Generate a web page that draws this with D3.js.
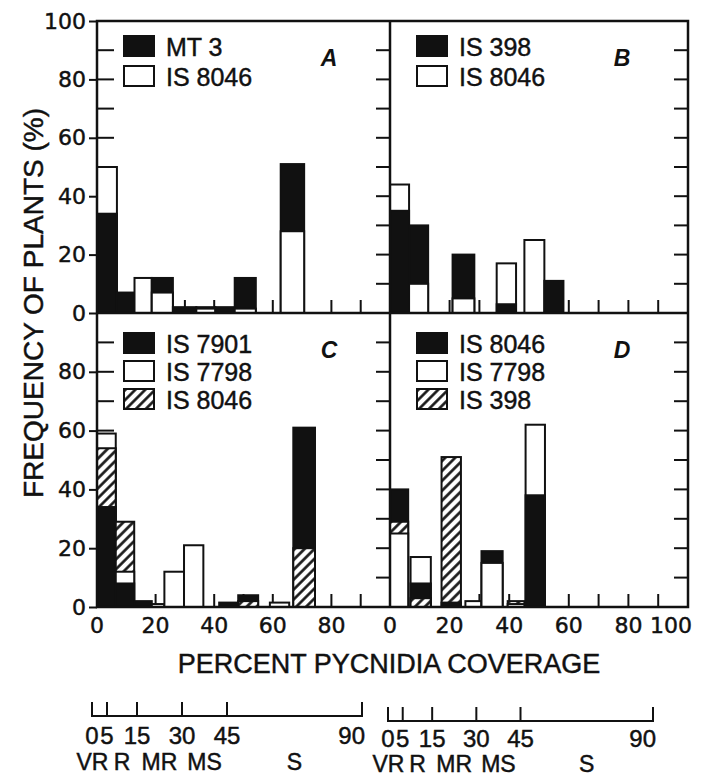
<!DOCTYPE html>
<html>
<head>
<meta charset="utf-8">
<script src="https://cdn.jsdelivr.net/npm/d3@7"></script>
<style>
body { margin: 0; background: #fff; }
svg { display: block; }
svg text { stroke: #111; stroke-width: 0.45px; }
</style>
</head>
<body>
<div id="chart-area"></div>
<script>
// tick values
var yTicksTop = [0, 20, 40, 60, 80, 100];
var yTicksBottom = [0, 20, 40, 60, 80];
var xTicksLeft = [0, 20, 40, 60, 80];
var xTicksRight = [0, 20, 40, 60, 80, 100];
var minorTicks = [10, 20, 30, 40, 50, 60, 70, 80, 90];

// panel A  (bins are [from, to] percent pycnidia coverage)
var binsA = [[0, 6.8], [6.8, 12.8], [12.8, 18.7], [18.7, 25.9], [25.9, 33.9], [33.9, 40.4], [40.4, 47], [47, 54.2], [62.7, 70.7]];
var mt3A = [34, 7, 0, 12, 2, 2, 2, 12, 51];
var is8046A = [50, 0, 12, 7, 0, 1.5, 0, 1.5, 28];

// panel B
var binsB = [[0, 6.4], [6.4, 12.8], [21, 28.3], [35.8, 42.3], [45.1, 51.8], [51.8, 58.2]];
var is398B = [35, 30, 20, 3, 0, 11];
var is8046B = [44, 10, 5, 17, 25, 0];

// panel C
var binsC = [[0, 6.4], [6.4, 12.7], [12.7, 18.7], [18.7, 23], [23, 29.7], [29.7, 36.3], [41.7, 48.2], [48.2, 55], [59, 65.6], [67, 74.4]];
var is7901C = [34, 8, 2, 0, 0, 0, 1.5, 4, 0, 61];
var is7798C = [59, 12, 0, 1, 12, 21, 0, 0, 1.5, 0];
var is8046C = [54, 29, 0, 0, 0, 0, 0, 2, 0, 20];

// panel D
var binsD = [[0, 6.1], [6.9, 13.7], [17.3, 23.8], [25.3, 30.7], [30.7, 37.8], [39.5, 45.1], [45.5, 52]];
var is8046D = [40, 8, 1.5, 0, 19, 0, 38];
var is7798D = [25, 17, 0, 2, 15, 1, 62];
var is398D = [29, 3, 51, 0, 0, 2, 0];

// severity classes
var classEdges = [0, 5, 15, 30, 45, 90];
var classNames = ["VR", "R", "MR", "MS", "S"];

var INK = "#111";
var BLACK = "#111", WHITE = "#fff", HATCH = "url(#hatch)";

var width = 702, height = 778;
var colX = [[97, 390], [390, 688]];
var rowY = [[21, 313], [313, 607]];

var svg = d3.select("#chart-area").append("svg")
  .attr("width", width)
  .attr("height", height);

var pat = svg.append("defs").append("pattern")
  .attr("id", "hatch")
  .attr("patternUnits", "userSpaceOnUse")
  .attr("width", 7).attr("height", 7)
  .attr("patternTransform", "rotate(45)");
pat.append("rect").attr("width", 7).attr("height", 7).attr("fill", "#fff");
pat.append("line")
  .attr("x1", 1.5).attr("x2", 1.5).attr("y1", 0).attr("y2", 7)
  .attr("stroke", INK).attr("stroke-width", 2.6);

var panels = [
  {letter: "A", col: 0, row: 0, bins: binsA, series: [
    {name: "MT 3", fill: BLACK, values: mt3A},
    {name: "IS 8046", fill: WHITE, values: is8046A}]},
  {letter: "B", col: 1, row: 0, bins: binsB, series: [
    {name: "IS 398", fill: BLACK, values: is398B},
    {name: "IS 8046", fill: WHITE, values: is8046B}]},
  {letter: "C", col: 0, row: 1, bins: binsC, series: [
    {name: "IS 7901", fill: BLACK, values: is7901C},
    {name: "IS 7798", fill: WHITE, values: is7798C},
    {name: "IS 8046", fill: HATCH, values: is8046C}]},
  {letter: "D", col: 1, row: 1, bins: binsD, series: [
    {name: "IS 8046", fill: BLACK, values: is8046D},
    {name: "IS 7798", fill: WHITE, values: is7798D},
    {name: "IS 398", fill: HATCH, values: is398D}]}
];

panels.forEach(function(p) {
  var x = d3.scaleLinear().domain([0, 100]).range(colX[p.col]);
  var y = d3.scaleLinear().domain([0, 100]).range([rowY[p.row][1], rowY[p.row][0]]);
  var g = svg.append("g");

  // right edge ticks (inward)
  g.selectAll(".rt").data(minorTicks).enter().append("line")
    .attr("x1", x(100)).attr("x2", x(100) - 14)
    .attr("y1", function(d) { return y(d); })
    .attr("y2", function(d) { return y(d); })
    .attr("stroke", INK).attr("stroke-width", 2);

  // bottom ticks (upward)
  g.selectAll(".bt").data(minorTicks).enter().append("line")
    .attr("x1", function(d) { return x(d); })
    .attr("x2", function(d) { return x(d); })
    .attr("y1", y(0)).attr("y2", y(0) - 13)
    .attr("stroke", INK).attr("stroke-width", 2);

  if (p.col == 0) {
    g.selectAll(".lt").data(minorTicks).enter().append("line")
      .attr("x1", x(0)).attr("x2", x(0) + 17)
      .attr("y1", function(d) { return y(d); })
      .attr("y2", function(d) { return y(d); })
      .attr("stroke", INK).attr("stroke-width", 2);

    var yAxis = d3.axisLeft(y)
      .tickValues(p.row == 0 ? yTicksTop : yTicksBottom)
      .tickSize(8).tickPadding(3)
      .tickFormat(d3.format("d"));
    var ya = g.append("g").attr("transform", "translate(" + x(0) + ",0)").call(yAxis);
    ya.select(".domain").remove();
    ya.selectAll("line").attr("stroke", INK).attr("stroke-width", 2);
    ya.selectAll("text")
      .attr("font-family", "DejaVu Sans").attr("font-size", "22px").attr("fill", INK);
  }

  if (p.row == 1) {
    var ticks = p.col == 0 ? xTicksLeft : xTicksRight;
    g.selectAll(".xl").data(ticks).enter().append("text")
      .attr("x", function(d) { return d == 100 ? x(d) + 4 : x(d); })
      .attr("y", y(0) + 26)
      .attr("text-anchor", function(d) { return d == 100 ? "end" : "middle"; })
      .attr("font-family", "DejaVu Sans").attr("font-size", "22px").attr("fill", INK)
      .text(function(d) { return d; });
  }

  // bars: within each bin the taller series sits behind the shorter ones
  p.bins.forEach(function(b, i) {
    var items = p.series.map(function(s) { return {fill: s.fill, v: s.values[i]}; })
      .filter(function(d) { return d.v > 0; })
      .sort(function(a, c) { return c.v - a.v; });
    g.selectAll(null).data(items).enter().append("rect")
      .attr("x", x(b[0]))
      .attr("width", x(b[1]) - x(b[0]))
      .attr("y", function(d) { return y(d.v); })
      .attr("height", function(d) { return y(0) - y(d.v); })
      .attr("fill", function(d) { return d.fill; })
      .attr("stroke", INK).attr("stroke-width", 2);
  });

  // legend
  var ly = rowY[p.row][0] + (p.row == 0 ? 15 : 20);
  var step = p.row == 0 ? 30 : 28;
  var lg = g.selectAll(".lg").data(p.series).enter().append("g")
    .attr("transform", function(d, i) { return "translate(" + (x(0) + 27) + "," + (ly + i * step) + ")"; });
  lg.append("rect")
    .attr("width", 30).attr("height", 20)
    .attr("fill", function(d) { return d.fill; })
    .attr("stroke", INK).attr("stroke-width", 2);
  lg.append("text")
    .attr("x", 42).attr("y", 20)
    .attr("font-family", "Liberation Sans").attr("font-size", "25px").attr("fill", INK)
    .text(function(d) { return d.name; });

  g.append("text")
    .attr("x", x(0) + 232).attr("y", rowY[p.row][0] + 45)
    .attr("text-anchor", "middle")
    .attr("font-family", "Liberation Sans").attr("font-size", "23px")
    .attr("font-style", "italic").attr("font-weight", "bold").attr("fill", INK)
    .style("stroke-width", "0px")
    .text(p.letter);
});

// frame
svg.append("rect")
  .attr("x", colX[0][0]).attr("y", rowY[0][0])
  .attr("width", colX[1][1] - colX[0][0]).attr("height", rowY[1][1] - rowY[0][0])
  .attr("fill", "none").attr("stroke", INK).attr("stroke-width", 2.5);
svg.append("line")
  .attr("x1", colX[1][0]).attr("x2", colX[1][0]).attr("y1", rowY[0][0]).attr("y2", rowY[1][1])
  .attr("stroke", INK).attr("stroke-width", 2.5);
svg.append("line")
  .attr("x1", colX[0][0]).attr("x2", colX[1][1]).attr("y1", rowY[1][0]).attr("y2", rowY[1][0])
  .attr("stroke", INK).attr("stroke-width", 2.5);

// axis titles
svg.append("text")
  .attr("transform", "translate(43,303) rotate(-90)")
  .attr("text-anchor", "middle")
  .attr("font-family", "Liberation Sans").attr("font-size", "28px").attr("fill", INK)
  .text("FREQUENCY OF PLANTS (%)");

svg.append("text")
  .attr("x", 389).attr("y", 673)
  .attr("text-anchor", "middle")
  .attr("font-family", "Liberation Sans").attr("font-size", "27px").attr("fill", INK)
  .text("PERCENT PYCNIDIA COVERAGE");

// severity class scales under each column
var classScales = [
  {range: [92, 362], line: 716, lab: 744, cls: 770},
  {range: [388, 653], line: 721, lab: 747, cls: 772}
];

classScales.forEach(function(c) {
  var s = d3.scaleLinear().domain([0, 90]).range(c.range);
  var g = svg.append("g");
  g.append("line")
    .attr("x1", s(0)).attr("x2", s(90)).attr("y1", c.line).attr("y2", c.line)
    .attr("stroke", INK).attr("stroke-width", 2.2);
  g.selectAll(".ct").data(classEdges).enter().append("line")
    .attr("x1", function(d) { return s(d); })
    .attr("x2", function(d) { return s(d); })
    .attr("y1", c.line + 1).attr("y2", c.line - 14)
    .attr("stroke", INK).attr("stroke-width", 2);
  g.selectAll(".cl").data(classEdges).enter().append("text")
    .attr("x", function(d) { return d == 90 ? s(d) + 3 : s(d); })
    .attr("y", c.lab)
    .attr("text-anchor", function(d) { return d == 90 ? "end" : "middle"; })
    .attr("font-family", "Liberation Sans").attr("font-size", "24px").attr("fill", INK)
    .text(function(d) { return d; });
  g.selectAll(".cn").data(classNames).enter().append("text")
    .attr("x", function(d, i) { return (s(classEdges[i]) + s(classEdges[i + 1])) / 2 + (i == 0 ? -7 : 0); })
    .attr("y", c.cls)
    .attr("text-anchor", "middle")
    .attr("font-family", "Liberation Sans").attr("font-size", "23px").attr("fill", INK)
    .text(function(d) { return d; });
});
</script>
</body>
</html>
